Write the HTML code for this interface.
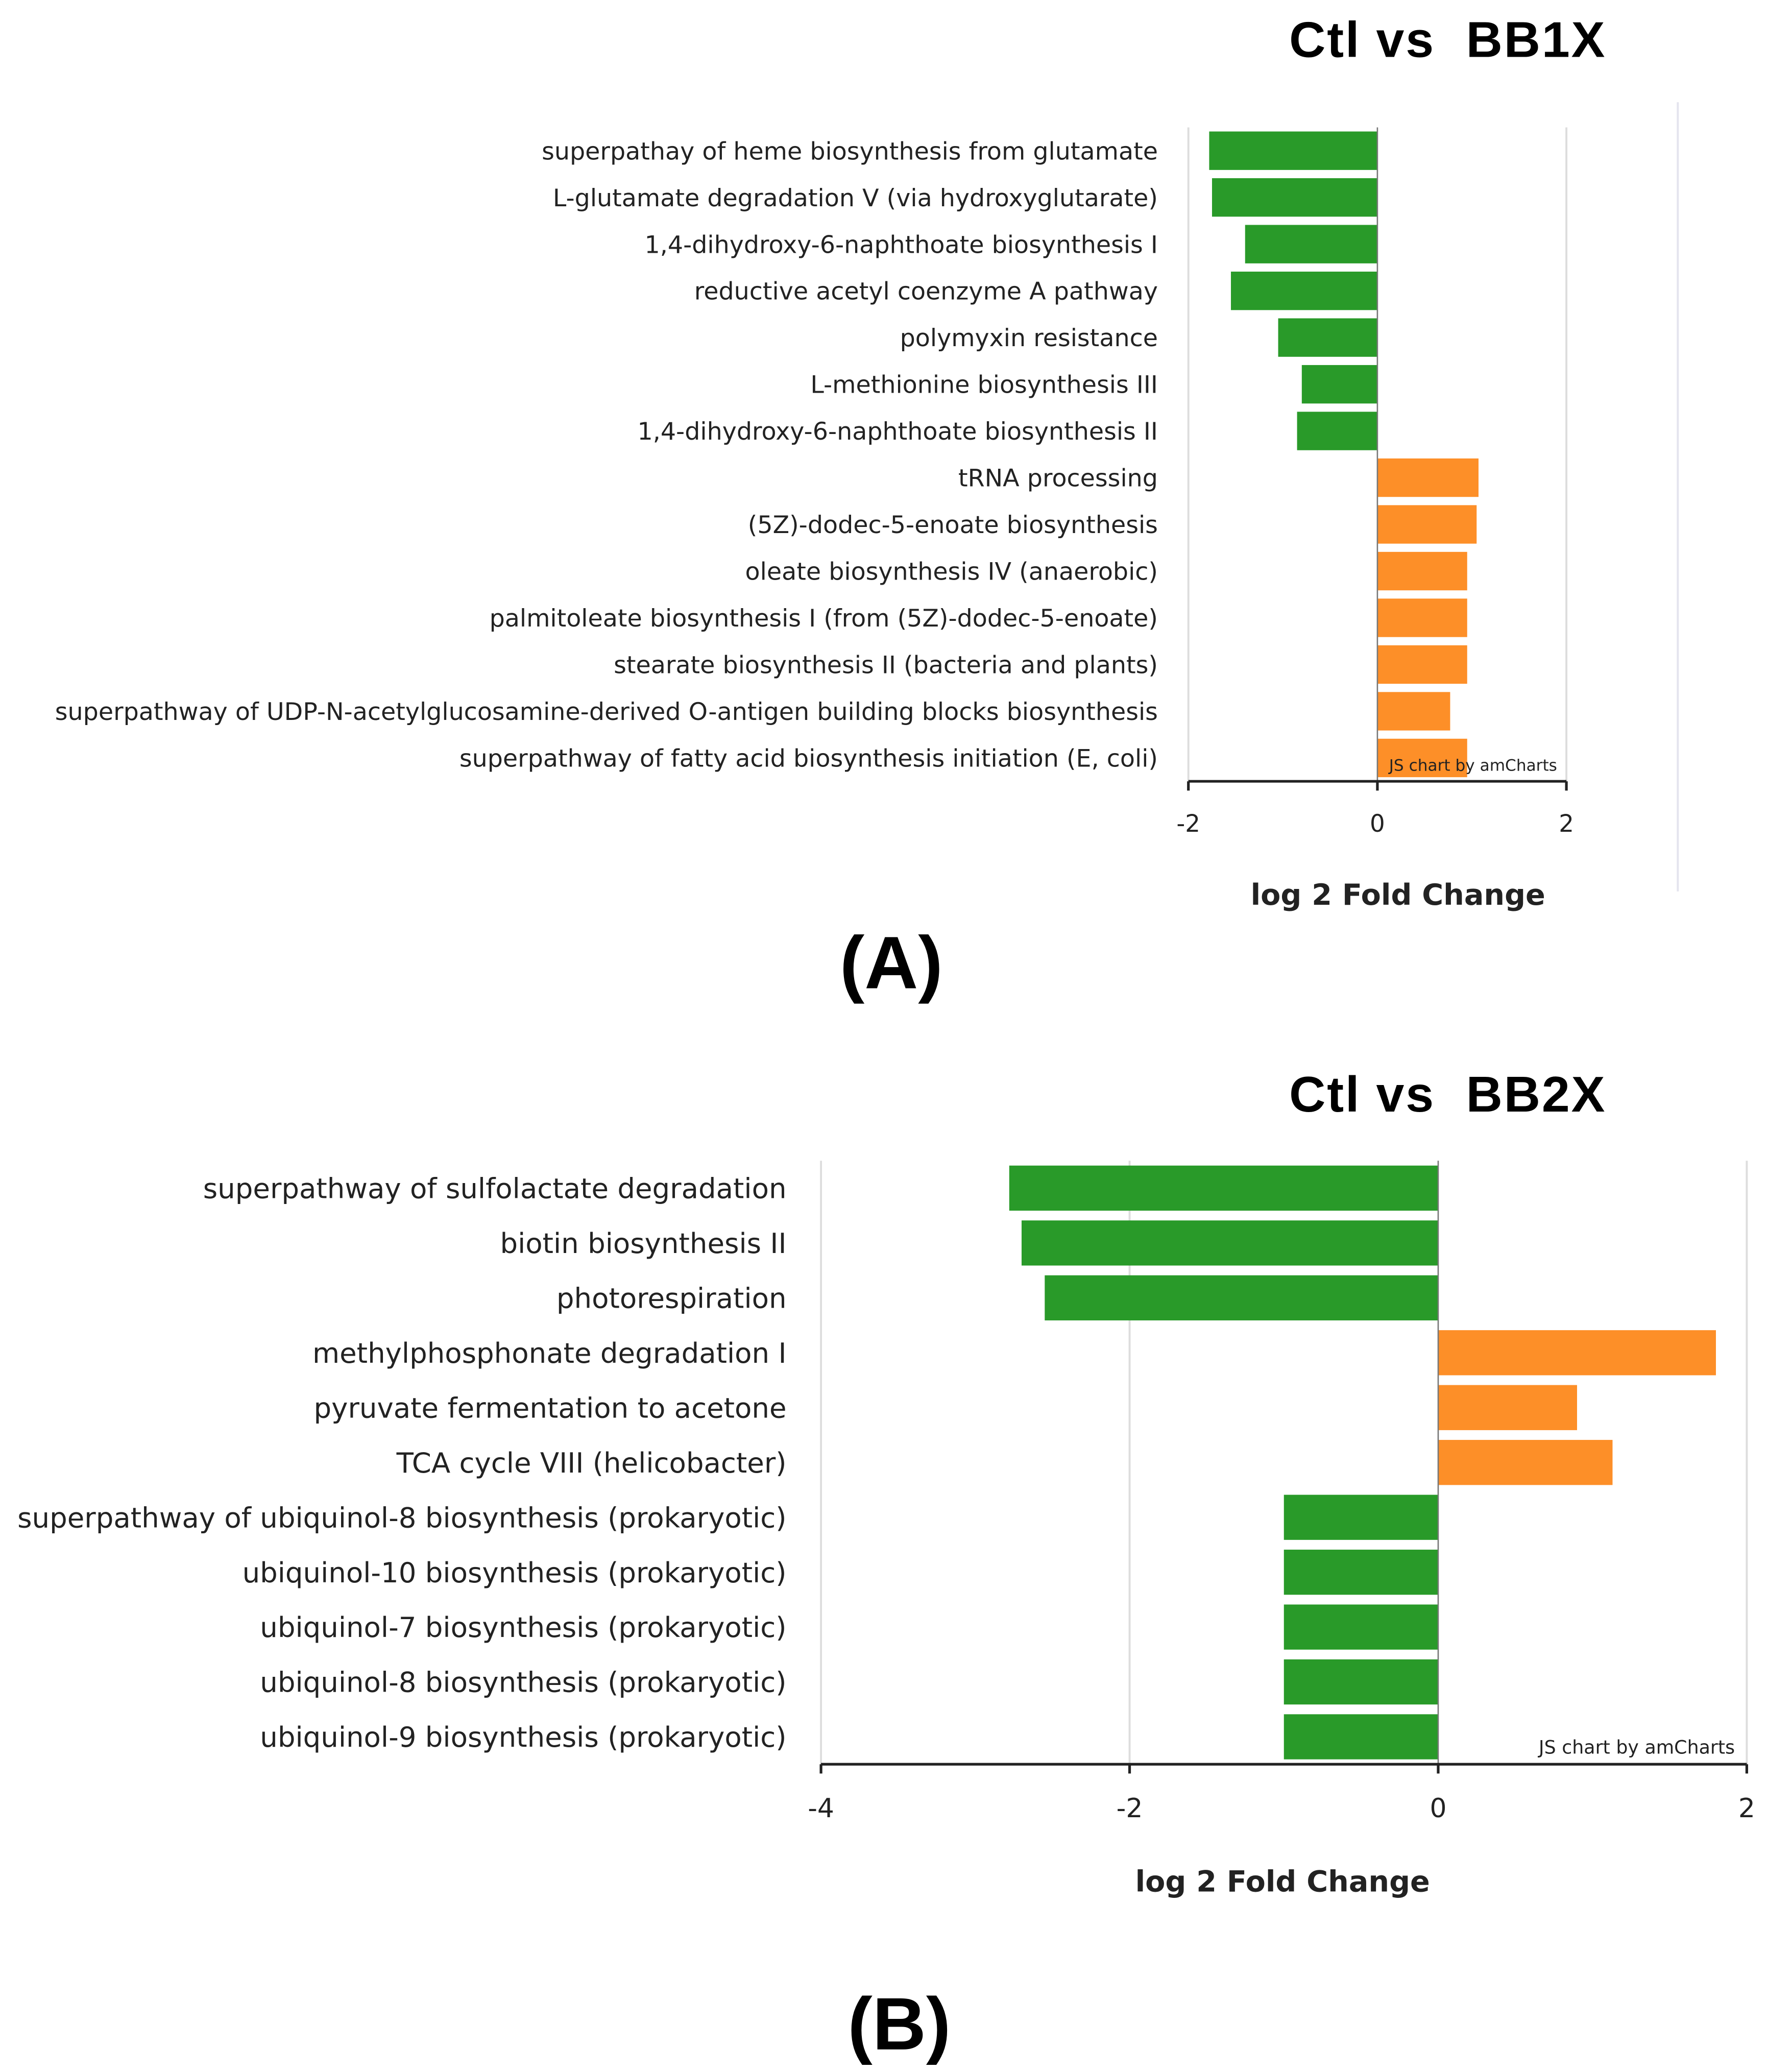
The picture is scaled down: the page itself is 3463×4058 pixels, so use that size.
<!DOCTYPE html>
<html><head><meta charset="utf-8"><style>
html,body{margin:0;padding:0;background:#fff;}
svg{display:block;}
text{font-family:"DejaVu Sans","Liberation Sans",sans-serif;fill:#222;}
.t{font-family:"Liberation Sans",Arial,sans-serif;font-weight:bold;fill:#000;white-space:pre;}
</style></head><body>
<svg id="fig" width="3463" height="4058" viewBox="0 0 1333 1562" xmlns="http://www.w3.org/2000/svg">
<rect width="1333" height="1562" fill="#fff"/>
<text class="t" x="972" y="43" font-size="38" textLength="238" lengthAdjust="spacing">Ctl vs  BB1X</text>
<text class="t" x="672" y="745" font-size="56" text-anchor="middle">(A)</text>
<text class="t" x="972" y="838" font-size="38" textLength="238" lengthAdjust="spacing">Ctl vs  BB2X</text>
<text class="t" x="678" y="1545" font-size="56" text-anchor="middle">(B)</text>
<line x1="1265" y1="77" x2="1265" y2="672" stroke="#e4e4ee" stroke-width="1.5"/>
<g id="ca"></g>
<g id="cb"></g>
</svg>
<script>
const catsA = ["superpathay of heme biosynthesis from glutamate","L-glutamate degradation V (via hydroxyglutarate)","1,4-dihydroxy-6-naphthoate biosynthesis I","reductive acetyl coenzyme A pathway","polymyxin resistance","L-methionine biosynthesis III","1,4-dihydroxy-6-naphthoate biosynthesis II","tRNA processing","(5Z)-dodec-5-enoate biosynthesis","oleate biosynthesis IV (anaerobic)","palmitoleate biosynthesis I (from (5Z)-dodec-5-enoate)","stearate biosynthesis II (bacteria and plants)","superpathway of UDP-N-acetylglucosamine-derived O-antigen building blocks biosynthesis","superpathway of fatty acid biosynthesis initiation (E, coli)"];
const valsA = [-1.78,-1.75,-1.4,-1.55,-1.05,-0.8,-0.85,1.07,1.05,0.95,0.95,0.95,0.77,0.95];
const ticksA = [-2,0,2];
const catsB = ["superpathway of sulfolactate degradation","biotin biosynthesis II","photorespiration","methylphosphonate degradation I","pyruvate fermentation to acetone","TCA cycle VIII (helicobacter)","superpathway of ubiquinol-8 biosynthesis (prokaryotic)","ubiquinol-10 biosynthesis (prokaryotic)","ubiquinol-7 biosynthesis (prokaryotic)","ubiquinol-8 biosynthesis (prokaryotic)","ubiquinol-9 biosynthesis (prokaryotic)"];
const valsB = [-2.78,-2.7,-2.55,1.8,0.9,1.13,-1,-1,-1,-1,-1];
const ticksB = [-4,-2,0,2];

const NS="http://www.w3.org/2000/svg";
function mk(parent,tag,attrs){const e=document.createElementNS(NS,tag);for(const k in attrs)e.setAttribute(k,attrs[k]);parent.appendChild(e);return e;}

function draw(g,cats,vals,ticks,cfg){
  const x=v=>cfg.x0+(v-ticks[0])/(ticks[ticks.length-1]-ticks[0])*(cfg.x1-cfg.x0);
  const step=(cfg.yb-cfg.yt)/cats.length;
  const y=i=>cfg.yt+step*i+step/2;
  ticks.forEach(t=>{
    if(t!==0){const gl=mk(g,'line',{x1:x(t),x2:x(t),y1:cfg.yt,y2:cfg.yb,stroke:'#ddd','stroke-width':1.5});
    
    }
  });
  cats.forEach((c,i)=>{
    const v=vals[i];
    const r=mk(g,'rect',{x:Math.min(x(0),x(v)),y:y(i)-cfg.bh/2,width:Math.abs(x(v)-x(0)),height:cfg.bh,fill:v<0?'#299a29':'#fd8f28'});
    
    
    const t=mk(g,'text',{x:cfg.lx,y:y(i)+cfg.fs*0.36,'font-size':cfg.fs,'text-anchor':'end'});
    t.textContent=c;
    
    
  });
  const z=mk(g,'line',{x1:x(0),x2:x(0),y1:cfg.yt,y2:cfg.yb,stroke:'#777','stroke-width':1});
  
  
  const ax=mk(g,'line',{x1:x(ticks[0]),x2:x(ticks[ticks.length-1]),y1:cfg.yb,y2:cfg.yb,stroke:'#222','stroke-width':2});
  
  
  ticks.forEach(t=>{
    const tk=mk(g,'line',{x1:x(t),x2:x(t),y1:cfg.yb,y2:cfg.yb+7,stroke:'#222','stroke-width':2});
    
    
    const tl=mk(g,'text',{x:x(t),y:cfg.yb+cfg.tfs+20,'font-size':cfg.tfs,'text-anchor':'middle'});
    tl.textContent=String(t);
    
    
  });
  const cr=mk(g,'text',{x:cfg.crx,y:cfg.yb-8,'font-size':cfg.crfs,'text-anchor':'end',fill:'#555'});
  cr.textContent='JS chart by amCharts';
  
  
  const at=mk(g,'text',{x:cfg.atx,y:cfg.aty,'font-size':cfg.afs,'text-anchor':'middle','font-weight':'bold',fill:'#111'});
  at.textContent='log 2 Fold Change';
  
  
}
draw(document.getElementById('ca'),catsA,valsA,ticksA,{x0:896,x1:1181,yt:96,yb:589,bh:29,lx:873,fs:18.3,tfs:18,crx:1174,crfs:12,atx:1054,aty:682,afs:22});
draw(document.getElementById('cb'),catsB,valsB,ticksB,{x0:619,x1:1317,yt:875,yb:1330,bh:34,lx:593,fs:21,tfs:20,crx:1308,crfs:14,atx:967,aty:1426,afs:22});
</script>
</body></html>
